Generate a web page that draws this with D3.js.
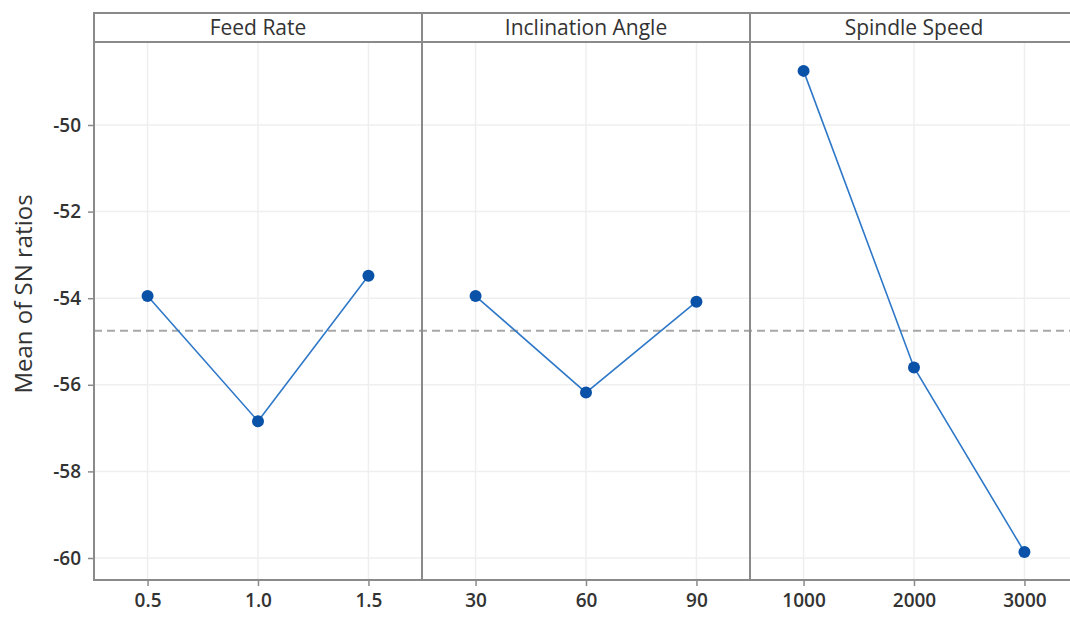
<!DOCTYPE html>
<html><head><meta charset="utf-8">
<script src="https://cdn.jsdelivr.net/npm/d3@7"></script>
<style>body{margin:0;background:#fff;} svg{display:block;}</style>
</head><body>
<svg id="c" width="1070" height="617"></svg>
<script>
const panelTitles = ["Feed Rate", "Inclination Angle", "Spindle Speed"];
const feedLevels = ["0.5", "1.0", "1.5"];
const feedValues = [-53.95, -56.84, -53.48];
const angleLevels = ["30", "60", "90"];
const angleValues = [-53.95, -56.18, -54.08];
const speedLevels = ["1000", "2000", "3000"];
const speedValues = [-48.75, -55.60, -59.86];
const grandMean = -54.75;
const yTicks = [-50, -52, -54, -56, -58, -60];
const yLabel = "Mean of SN ratios";

(function () {
const panels = [
  {title: panelTitles[0], levels: feedLevels, values: feedValues},
  {title: panelTitles[1], levels: angleLevels, values: angleValues},
  {title: panelTitles[2], levels: speedLevels, values: speedValues}
];

const svg = d3.select("#c");
const mLeft = 94, mTop = 13, headerH = 29, mBottom = 580, panelW = 328;
const plotTop = mTop + headerH;
const frame = "#8a8a8a", font = "'Open Sans', 'Noto Sans', sans-serif";

const y = d3.scaleLinear().domain([-60, -50]).range([558, 125]);

panels.forEach((p, i) => {
  const x0 = mLeft + i * panelW;
  const x = d3.scalePoint().domain(p.levels).range([x0, x0 + panelW]).padding(0.485);
  const g = svg.append("g");
  g.selectAll(".hg").data(yTicks).join("line")
    .attr("x1", x0).attr("x2", x0 + panelW)
    .attr("y1", d => y(d)).attr("y2", d => y(d))
    .attr("stroke", "#efefef").attr("stroke-width", 1.5);
  g.selectAll(".vg").data(p.levels).join("line")
    .attr("x1", d => x(d)).attr("x2", d => x(d))
    .attr("y1", plotTop).attr("y2", mBottom)
    .attr("stroke", "#efefef").attr("stroke-width", 1.5);
  p.x = x; p.x0 = x0;
});

svg.append("line")
  .attr("x1", mLeft).attr("x2", mLeft + 3 * panelW)
  .attr("y1", y(grandMean)).attr("y2", y(grandMean))
  .attr("stroke", "#a8a8a8").attr("stroke-width", 2)
  .attr("stroke-dasharray", "8,5");

panels.forEach((p) => {
  const data = p.levels.map((l, k) => ({l, v: p.values[k]}));
  const line = d3.line().x(d => p.x(d.l)).y(d => y(d.v));
  svg.append("path").datum(data).attr("d", line)
    .attr("fill", "none").attr("stroke", "#2f78c8").attr("stroke-width", 1.6);
  svg.append("g").selectAll("circle").data(data).join("circle")
    .attr("cx", d => p.x(d.l)).attr("cy", d => y(d.v)).attr("r", 6)
    .attr("fill", "#0a52a8");
  const ax = svg.append("g").attr("transform", `translate(0,${mBottom})`)
    .call(d3.axisBottom(p.x).tickSize(6).tickPadding(8));
  ax.select(".domain").remove();
  ax.selectAll(".tick line").attr("stroke", frame).attr("stroke-width", 1.5);
  ax.selectAll(".tick text").attr("font-family", font).attr("font-size", 19)
    .attr("font-weight", 600).attr("fill", "#333");
  svg.append("text").attr("x", p.x0 + panelW / 2).attr("y", mTop + headerH / 2 + 2)
    .attr("text-anchor", "middle").attr("dominant-baseline", "middle")
    .attr("font-family", font).attr("font-size", 21).attr("fill", "#333").text(p.title);
});

const ay = svg.append("g").attr("transform", `translate(${mLeft},0)`)
  .call(d3.axisLeft(y).tickValues(yTicks).tickFormat(d => "-" + Math.abs(d)).tickSize(6).tickPadding(7));
ay.select(".domain").remove();
ay.selectAll(".tick line").attr("stroke", frame).attr("stroke-width", 1.5);
ay.selectAll(".tick text").attr("font-family", font).attr("font-size", 19)
  .attr("font-weight", 600).attr("fill", "#333");

const fr = svg.append("g").attr("fill", "none").attr("stroke", frame).attr("stroke-width", 2);
fr.append("rect").attr("x", mLeft).attr("y", mTop).attr("width", 3 * panelW).attr("height", mBottom - mTop);
fr.append("line").attr("x1", mLeft).attr("x2", mLeft + 3 * panelW).attr("y1", plotTop).attr("y2", plotTop);
[1, 2].forEach(i => fr.append("line").attr("x1", mLeft + i * panelW).attr("x2", mLeft + i * panelW)
  .attr("y1", mTop).attr("y2", mBottom));

svg.append("text").attr("transform", `translate(32,294) rotate(-90)`)
  .attr("text-anchor", "middle").attr("font-family", font).attr("font-size", 24).attr("fill", "#333")
  .text(yLabel);
})();
</script>
</body></html>
